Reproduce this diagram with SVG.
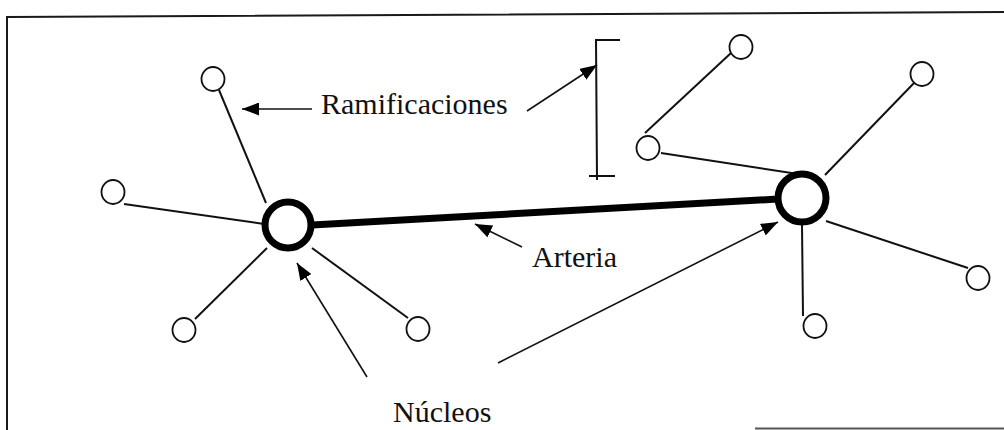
<svg xmlns="http://www.w3.org/2000/svg" width="1004" height="430" viewBox="0 0 1004 430">
<style>
.frame{stroke:#1a1a1a;stroke-width:2;fill:none}
.br{stroke:#111;stroke-width:2;fill:none}
.ptr{stroke:#111;stroke-width:1.6;fill:none}
.small{fill:#fff;stroke:#111;stroke-width:1.8}
.big{fill:#fff;stroke:#000;stroke-width:7}
.art{stroke:#000;stroke-width:7;fill:none}
.lbl{font-family:"Liberation Serif","Times New Roman",serif;font-size:30px;fill:#111}
</style>
<defs>
<marker id="ah" viewBox="0 0 17 13" refX="17" refY="6.5" markerWidth="17" markerHeight="13" markerUnits="userSpaceOnUse" orient="auto">
<path d="M0,0 L17,6.5 L0,13 Z" fill="#000"/>
</marker>
</defs>
<g id="frame">
<path class="frame" d="M7,430 L7,17 L1004,12"/>
<path d="M755,428.5 L1004,428.5" stroke="#555" stroke-width="2"/>
</g>
<g id="connectors">
<line class="art" x1="312" y1="225" x2="778" y2="199"/>
<line class="br" x1="219" y1="90" x2="266" y2="203"/>
<line class="br" x1="124" y1="204" x2="264" y2="224"/>
<line class="br" x1="267" y1="248" x2="195" y2="319"/>
<line class="br" x1="312" y1="248" x2="408" y2="318"/>
<line class="br" x1="661" y1="153" x2="798" y2="174"/>
<line class="br" x1="645" y1="133" x2="731" y2="53"/>
<line class="br" x1="825" y1="175" x2="914" y2="83"/>
<line class="br" x1="826" y1="221" x2="968" y2="268"/>
<line class="br" x1="802" y1="225" x2="803" y2="316"/>
<line class="ptr" x1="312" y1="109" x2="242" y2="109" marker-end="url(#ah)"/>
<line class="ptr" x1="527" y1="111" x2="597" y2="65" marker-end="url(#ah)"/>
<line class="ptr" x1="522" y1="247" x2="475" y2="224" marker-end="url(#ah)"/>
<line class="ptr" x1="367" y1="377" x2="297" y2="263" marker-end="url(#ah)"/>
<line class="ptr" x1="498" y1="363" x2="778" y2="222" marker-end="url(#ah)"/>
<path class="br" d="M620,40 L596,40 L597,180 M589,176 L615,176" stroke-width="1.8"/>
</g>
<g id="nucleo-izq"><circle class="big" cx="288" cy="225" r="23"/></g>
<g id="nucleo-der"><circle class="big" cx="802" cy="198" r="24"/></g>
<g id="n1"><ellipse class="small" cx="213" cy="79" rx="11.5" ry="12"/></g>
<g id="n2"><ellipse class="small" cx="113" cy="192" rx="11.5" ry="12"/></g>
<g id="n3"><ellipse class="small" cx="184" cy="330" rx="11.5" ry="12"/></g>
<g id="n4"><ellipse class="small" cx="418" cy="329" rx="11.5" ry="12"/></g>
<g id="n5"><ellipse class="small" cx="648" cy="148" rx="11.5" ry="12"/></g>
<g id="n6"><ellipse class="small" cx="741" cy="47" rx="11.5" ry="12"/></g>
<g id="n7"><ellipse class="small" cx="922" cy="74" rx="11.5" ry="12"/></g>
<g id="n8"><ellipse class="small" cx="978" cy="278" rx="11.5" ry="12"/></g>
<g id="n9"><ellipse class="small" cx="815" cy="326" rx="11.5" ry="12"/></g>
<g id="labels">
<text class="lbl" x="321" y="114">Ramificaciones</text>
<text class="lbl" x="532" y="267">Arteria</text>
<text class="lbl" x="393" y="422">Núcleos</text>
</g>
</svg>
